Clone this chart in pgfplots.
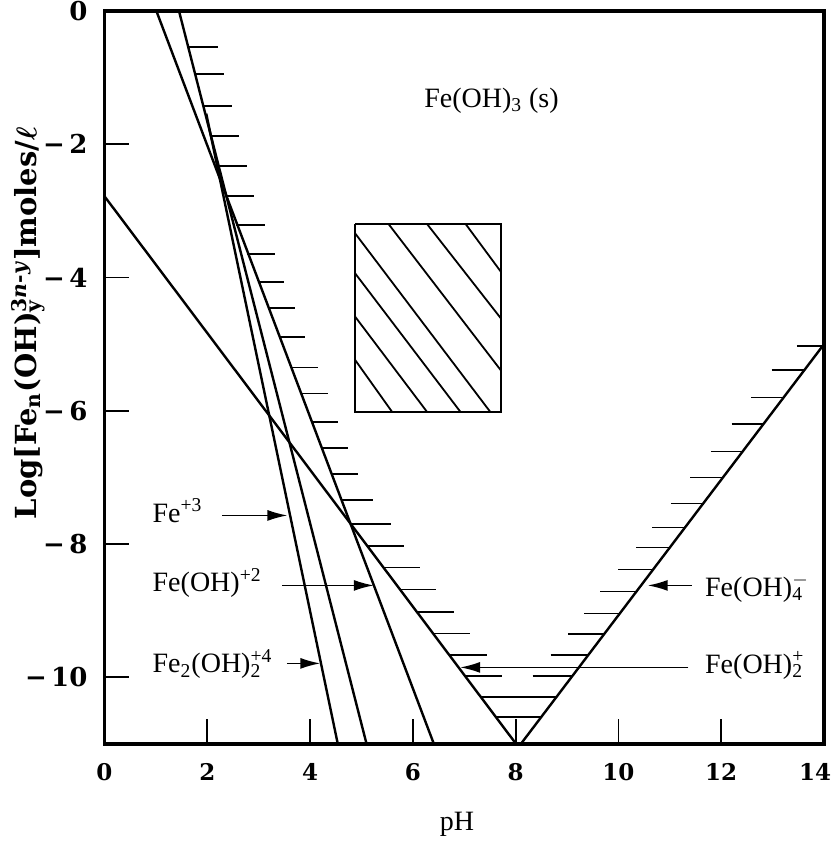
\documentclass[border=0pt]{standalone}
\usepackage{fontspec}
\setmainfont{Liberation Serif}
\newfontfamily\dvserif{DejaVu Serif}
\usepackage{pgfplots}
\pgfplotsset{compat=1.18}
\usetikzlibrary{arrows.meta}
\newcommand{\subsup}[2]{\makebox[0pt][l]{\textsubscript{#1}}\textsuperscript{#2}}
\begin{document}
\begin{tikzpicture}
\begin{axis}[
  width=359.75pt, height=366.5pt, scale only axis,
  xmin=0, xmax=14, ymin=-11, ymax=0,
  xtick={0,2,4,6,8,10,12,14},
  xticklabels={0,2,4,6,8,10,12,\hspace*{-9pt}14},
  ytick={-10,-8,-6,-4,-2,0},
  yticklabels={−\,10,−\,8,−\,6,−\,4,−\,2,0},
  tick align=inside, tick pos=left, major tick length=12.5pt,
  tick style={line width=0.9pt, black},
  axis line style={line width=1.8pt},
  xticklabel style={font=\dvserif\bfseries\fontsize{11.5}{13}\selectfont, yshift=-6pt},
  yticklabel style={font=\dvserif\bfseries\fontsize{13}{15}\selectfont, xshift=-5pt},
  xlabel={pH},
  xlabel style={at={(axis description cs:0.49,-0.11)}, anchor=center, font=\fontsize{14}{16}\selectfont},
  ylabel={Log[Fe\textsubscript{n}(OH)\subsup{y}{3\textit{n}-\textit{y}}]moles/{\boldmath$\ell$}},
  ylabel style={at={(axis description cs:-0.106,0.574)}, anchor=center, font=\dvserif\bfseries\fontsize{14.5}{17}\selectfont},
  unbounded coords=jump,
]
% component lines
\addplot[black, line width=1.2pt] coordinates {(1.45,0) (5.10,-11)};   % Fe+3
\addplot[black, line width=1.2pt] coordinates {(1.01,0) (6.41,-11)};   % Fe(OH)+2
\addplot[black, line width=1.2pt] coordinates {(1.98,-1.54) (4.54,-11)}; % Fe2(OH)2+4
\addplot[black, line width=1.2pt] coordinates {(0,-2.78) (8.01,-11)};  % Fe(OH)2+
\addplot[black, line width=1.2pt] coordinates {(8.10,-11) (14,-5)};    % Fe(OH)4-
% hatches
\addplot[black, line width=0.9pt] coordinates {
(1.63,-0.54) (2.20,-0.54) (nan,nan)
(1.77,-0.95) (2.32,-0.95) (nan,nan)
(1.93,-1.43) (2.48,-1.43) (nan,nan)
(2.08,-1.88) (2.61,-1.88) (nan,nan)
(2.23,-2.33) (2.78,-2.33) (nan,nan)
(2.38,-2.78) (2.91,-2.78) (nan,nan)
(2.56,-3.21) (3.12,-3.21) (nan,nan)
(2.78,-3.65) (3.31,-3.65) (nan,nan)
(2.99,-4.07) (3.50,-4.07) (nan,nan)
(3.18,-4.46) (3.70,-4.46) (nan,nan)
(3.39,-4.89) (3.90,-4.89) (nan,nan)
(3.62,-5.35) (4.16,-5.35) (nan,nan)
(3.81,-5.74) (4.34,-5.74) (nan,nan)
(4.03,-6.17) (4.54,-6.17) (nan,nan)
(4.22,-6.56) (4.74,-6.56) (nan,nan)
(4.41,-6.95) (4.94,-6.95) (nan,nan)
(4.60,-7.34) (5.22,-7.34) (nan,nan)
(4.80,-7.70) (5.58,-7.70) (nan,nan)
(5.12,-8.03) (5.82,-8.03) (nan,nan)
(5.43,-8.35) (6.13,-8.35) (nan,nan)
(5.75,-8.68) (6.45,-8.68) (nan,nan)
(6.08,-9.02) (6.80,-9.02) (nan,nan)
(6.39,-9.34) (7.11,-9.34) (nan,nan)
(6.72,-9.67) (7.44,-9.67) (nan,nan)
(7.02,-9.98) (7.74,-9.98) (nan,nan)
(7.33,-10.30) (8.79,-10.30) (nan,nan)
(7.62,-10.60) (8.49,-10.60) (nan,nan)
(13.47,-5.03) (13.97,-5.03) (nan,nan)
(12.98,-5.39) (13.62,-5.39) (nan,nan)
(12.58,-5.80) (13.21,-5.80) (nan,nan)
(12.20,-6.20) (12.82,-6.20) (nan,nan)
(11.80,-6.61) (12.42,-6.61) (nan,nan)
(11.40,-7.00) (12.03,-7.00) (nan,nan)
(11.02,-7.39) (11.65,-7.39) (nan,nan)
(10.66,-7.75) (11.30,-7.75) (nan,nan)
(10.35,-8.05) (11.00,-8.05) (nan,nan)
(10.00,-8.38) (10.68,-8.38) (nan,nan)
(9.65,-8.71) (10.35,-8.71) (nan,nan)
(9.33,-9.04) (10.03,-9.04) (nan,nan)
(9.02,-9.35) (9.72,-9.35) (nan,nan)
(8.68,-9.67) (9.41,-9.67) (nan,nan)
(8.33,-9.98) (9.10,-9.98)
};
% hatched rectangle
\addplot[black, line width=1.1pt] coordinates {(4.88,-3.20) (7.71,-3.20) (7.71,-6.02) (4.88,-6.02) (4.88,-3.20)};
\addplot[black, line width=0.9pt] coordinates {
(4.88,-5.24) (5.60,-6.02) (nan,nan)
(4.88,-4.59) (6.28,-6.02) (nan,nan)
(4.88,-3.94) (6.93,-6.02) (nan,nan)
(4.88,-3.34) (7.51,-6.02) (nan,nan)
(5.53,-3.20) (7.71,-5.39) (nan,nan)
(6.28,-3.20) (7.71,-4.61) (nan,nan)
(7.03,-3.20) (7.71,-3.91)
};
% arrows
\addplot[black, line width=0.8pt, -{Latex[length=10pt,width=5.5pt]}] coordinates {(2.29,-7.57) (3.56,-7.57)};
\addplot[black, line width=0.8pt, -{Latex[length=10pt,width=5.5pt]}] coordinates {(3.46,-8.62) (5.24,-8.62)};
\addplot[black, line width=0.8pt, -{Latex[length=10pt,width=5.5pt]}] coordinates {(3.55,-9.79) (4.20,-9.79)};
\addplot[black, line width=0.8pt, -{Latex[length=10pt,width=5.5pt]}] coordinates {(11.43,-8.62) (10.57,-8.62)};
\addplot[black, line width=0.8pt, -{Latex[length=10pt,width=5.5pt]}] coordinates {(11.36,-9.85) (6.92,-9.85)};
% labels
\node[anchor=center, font=\fontsize{14}{16}\selectfont] at (axis cs:7.53,-1.34) {Fe(OH)\textsubscript{3} (s)};
\node[anchor=west, inner sep=0pt, font=\fontsize{14}{16}\selectfont] at (axis cs:0.93,-7.50) {Fe\textsuperscript{+3}};
\node[anchor=west, inner sep=0pt, font=\fontsize{14}{16}\selectfont] at (axis cs:0.93,-8.58) {Fe(OH)\textsuperscript{+2}};
\node[anchor=west, inner sep=0pt, font=\fontsize{14}{16}\selectfont] at (axis cs:0.93,-9.80) {Fe\textsubscript{2}(OH)\subsup{2}{+4}};
\node[anchor=west, inner sep=0pt, font=\fontsize{14}{16}\selectfont] at (axis cs:11.68,-8.66) {Fe(OH)\subsup{4}{$-$}};
\node[anchor=west, inner sep=0pt, font=\fontsize{14}{16}\selectfont] at (axis cs:11.68,-9.82) {Fe(OH)\subsup{2}{+}};
\coordinate (bbSW) at (axis description cs:-0.1452,-0.1323);
\coordinate (bbNE) at (axis description cs:1.0111,1.015);
\end{axis}
\pgfresetboundingbox
\useasboundingbox (bbSW) rectangle (bbNE);
\end{tikzpicture}
\end{document}
